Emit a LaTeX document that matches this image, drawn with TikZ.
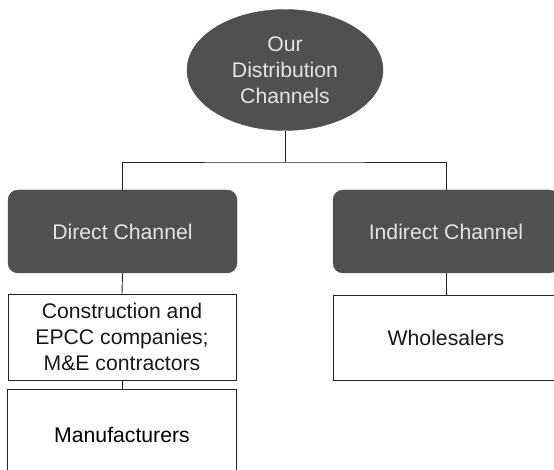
\documentclass[tikz,border=0pt]{standalone}
\usepackage{fontspec}
\setmainfont{Liberation Sans}
\usetikzlibrary{shapes.geometric}
\definecolor{darkfill}{RGB}{80,80,80}
\definecolor{lighttext}{RGB}{228,228,228}
\definecolor{linecol}{RGB}{35,35,35}
\begin{document}
\begin{tikzpicture}[x=1pt,y=-1pt,
  every node/.style={font=\fontsize{21.2}{25.8}\selectfont, align=center, inner sep=0pt},
  darkbox/.style={draw=darkfill, fill=darkfill, rounded corners=10pt, text=lighttext, minimum height=83pt},
  whitebox/.style={draw=linecol, line width=0.9pt, fill=white, text=black!90},
  conn/.style={draw=linecol, line width=0.9pt}]
\useasboundingbox (0,0) rectangle (554,470);
\clip (0,0) rectangle (554,470);
\fill[white] (0,0) rectangle (554,470);
% top ellipse
\node[ellipse, fill=darkfill, draw=darkfill, text=lighttext, minimum width=196pt, minimum height=121pt] (top) at (285,70) {Our\\Distribution\\Channels};
% channel boxes
\node[darkbox, minimum width=229pt] (direct) at (122.5,231.5) {Direct Channel};
\node[darkbox, minimum width=226pt] (indirect) at (446,231.5) {Indirect Channel};
% customer boxes
\node[whitebox, minimum width=228pt, minimum height=86pt] (constr) at (122,337) {Construction and\\EPCC companies;\\M\&E contractors};
\node[whitebox, minimum width=226pt, minimum height=85pt] (whole) at (446,337.5) {Wholesalers};
\node[minimum width=228pt, minimum height=90pt] (manuf) at (122,435) {Manufacturers};
\draw[linecol, line width=0.9pt] (manuf.south west) -- (manuf.north west) -- (manuf.north east) -- (manuf.south east);
% connectors
\coordinate (bus) at (285,162);
\draw[conn] (top.south) -- (bus);
\draw[conn] (direct.north) |- (bus) -| (indirect.north);
\draw[conn] (direct.south) -- (constr.north);
\draw[conn] (indirect.south) -- (whole.north);
\draw[conn] (constr.south) -- (manuf.north);
\end{tikzpicture}
\end{document}
